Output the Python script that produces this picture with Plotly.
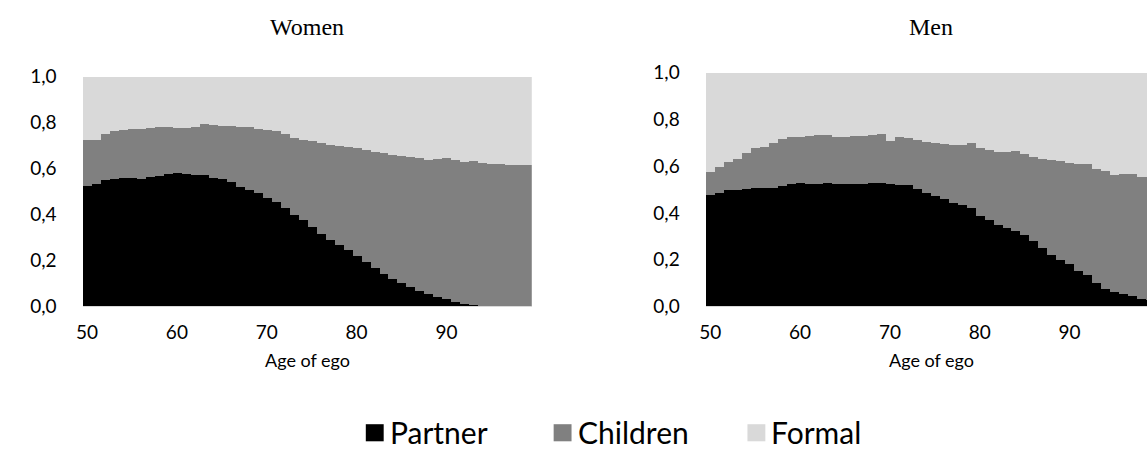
import plotly.graph_objects as go

ages = list(range(50, 100))

women_partner = [0.527, 0.535, 0.552, 0.557, 0.560, 0.559, 0.556, 0.566, 0.571, 0.579,
                 0.582, 0.577, 0.575, 0.574, 0.559, 0.556, 0.542, 0.520, 0.510, 0.497,
                 0.472, 0.455, 0.428, 0.400, 0.379, 0.349, 0.317, 0.290, 0.269, 0.246,
                 0.221, 0.193, 0.168, 0.145, 0.121, 0.103, 0.086, 0.069, 0.055, 0.044,
                 0.034, 0.023, 0.014, 0.007, 0.002, 0.000, 0.000, 0.000, 0.000, 0.000]
women_children = [0.199, 0.193, 0.202, 0.207, 0.208, 0.213, 0.219, 0.212, 0.212, 0.202,
                  0.197, 0.202, 0.208, 0.223, 0.234, 0.233, 0.244, 0.263, 0.271, 0.278,
                  0.298, 0.309, 0.324, 0.336, 0.349, 0.371, 0.397, 0.416, 0.431, 0.449,
                  0.469, 0.488, 0.505, 0.523, 0.541, 0.554, 0.565, 0.577, 0.586, 0.600,
                  0.614, 0.616, 0.618, 0.627, 0.624, 0.623, 0.621, 0.618, 0.618, 0.618]
women_formal = [0.274, 0.272, 0.246, 0.236, 0.232, 0.228, 0.225, 0.222, 0.217, 0.219,
                0.221, 0.221, 0.217, 0.203, 0.207, 0.211, 0.214, 0.217, 0.219, 0.225,
                0.230, 0.236, 0.248, 0.264, 0.272, 0.280, 0.286, 0.294, 0.300, 0.305,
                0.310, 0.319, 0.327, 0.332, 0.338, 0.343, 0.349, 0.354, 0.359, 0.356,
                0.352, 0.361, 0.368, 0.366, 0.374, 0.377, 0.379, 0.382, 0.382, 0.382]

men_partner = [0.480, 0.488, 0.499, 0.501, 0.504, 0.507, 0.507, 0.509, 0.518, 0.526,
               0.528, 0.526, 0.527, 0.528, 0.526, 0.526, 0.526, 0.526, 0.528, 0.531,
               0.526, 0.522, 0.522, 0.504, 0.488, 0.472, 0.461, 0.444, 0.434, 0.424,
               0.389, 0.369, 0.348, 0.335, 0.325, 0.308, 0.280, 0.251, 0.220, 0.201,
               0.183, 0.153, 0.136, 0.100, 0.075, 0.064, 0.054, 0.046, 0.031, 0.027]
men_children = [0.096, 0.108, 0.118, 0.133, 0.153, 0.171, 0.176, 0.193, 0.200, 0.200,
                0.200, 0.206, 0.207, 0.206, 0.202, 0.202, 0.203, 0.203, 0.206, 0.206,
                0.185, 0.202, 0.199, 0.211, 0.217, 0.230, 0.237, 0.250, 0.260, 0.275,
                0.289, 0.302, 0.316, 0.329, 0.342, 0.345, 0.360, 0.379, 0.406, 0.422,
                0.432, 0.459, 0.474, 0.488, 0.505, 0.500, 0.512, 0.523, 0.525, 0.526]
men_formal = [0.424, 0.404, 0.383, 0.366, 0.343, 0.322, 0.317, 0.298, 0.282, 0.274,
              0.272, 0.268, 0.266, 0.266, 0.272, 0.272, 0.271, 0.271, 0.266, 0.263,
              0.289, 0.276, 0.279, 0.285, 0.295, 0.298, 0.302, 0.306, 0.306, 0.301,
              0.322, 0.329, 0.336, 0.336, 0.333, 0.347, 0.360, 0.370, 0.374, 0.377,
              0.385, 0.388, 0.390, 0.412, 0.420, 0.436, 0.434, 0.431, 0.444, 0.447]

series_names = ["Partner", "Children", "Formal"]
series_colors = ["#000000", "#808080", "#d9d9d9"]
panel_titles = ["Women", "Men"]
x_title = "Age of ego"
x_ticks = [50, 60, 70, 80, 90]
y_ticks = [0.0, 0.2, 0.4, 0.6, 0.8, 1.0]

W, H = 1147, 458
SANS = "Lato, Carlito, Calibri, sans-serif"
TICK_FONT = dict(family=SANS, size=19, color="#000000")

fig = go.Figure()
panels = [
    ("x", "y", [women_partner, women_children, women_formal]),
    ("x2", "y2", [men_partner, men_children, men_formal]),
]
for xa, ya, vals in panels:
    for name, color, v in zip(series_names, series_colors, vals):
        fig.add_trace(go.Bar(x=ages, y=v, name=name, xaxis=xa, yaxis=ya,
                             marker=dict(color=color, line=dict(width=0)),
                             showlegend=False))

def px_x(p):
    return p / W

def px_y(p):
    return 1 - p / H

common_x = dict(tickvals=x_ticks, ticks="", showgrid=False, zeroline=False,
                showline=True, linecolor="#d9d9d9", linewidth=1,
                tickfont=TICK_FONT, ticklabelstandoff=9, fixedrange=True)
common_y = dict(tickvals=y_ticks, tickformat=".1f", range=[0, 1], ticks="",
                showgrid=False, zeroline=False, showline=False,
                tickfont=TICK_FONT, ticklabelstandoff=25, fixedrange=True)

fig.update_layout(
    width=W, height=H, margin=dict(l=0, r=0, t=0, b=0),
    paper_bgcolor="white", plot_bgcolor="white",
    barmode="stack", bargap=0, separators=",.",
    xaxis=dict(domain=[px_x(76), px_x(528)], range=[49.5, 99.5], anchor="y", **common_x),
    yaxis=dict(domain=[px_y(310), px_y(68)], anchor="x", **common_y),
    xaxis2=dict(domain=[px_x(703), 1.0], range=[49.5, 49.5 + 444 / 9.04], anchor="y2", **common_x),
    yaxis2=dict(domain=[px_y(310), px_y(64)], anchor="x2", **common_y),
)

annotations = []
for title, cx in zip(panel_titles, [302, 930]):
    annotations.append(dict(text=title, x=px_x(cx), y=px_y(16), xref="paper", yref="paper",
                            xanchor="center", yanchor="middle", showarrow=False,
                            font=dict(family="Liberation Serif, Times New Roman, serif", size=24, color="#000")))
    annotations.append(dict(text=x_title, x=px_x(cx), y=px_y(366), xref="paper", yref="paper",
                            xanchor="center", yanchor="middle", showarrow=False,
                            font=dict(family=SANS, size=18, color="#000")))

shapes = []
legend_x = [361, 550, 745]
for name, color, lx in zip(series_names, series_colors, legend_x):
    shapes.append(dict(type="rect", xref="paper", yref="paper",
                       x0=px_x(lx), x1=px_x(lx + 18), y0=px_y(452), y1=px_y(434),
                       fillcolor=color, line=dict(width=0)))
    annotations.append(dict(text=name, x=px_x(lx + 22), y=px_y(442), xref="paper", yref="paper",
                            xanchor="left", yanchor="middle", showarrow=False,
                            font=dict(family=SANS, size=30, color="#000")))

fig.update_layout(annotations=annotations, shapes=shapes)
fig.write_html("out.html")
